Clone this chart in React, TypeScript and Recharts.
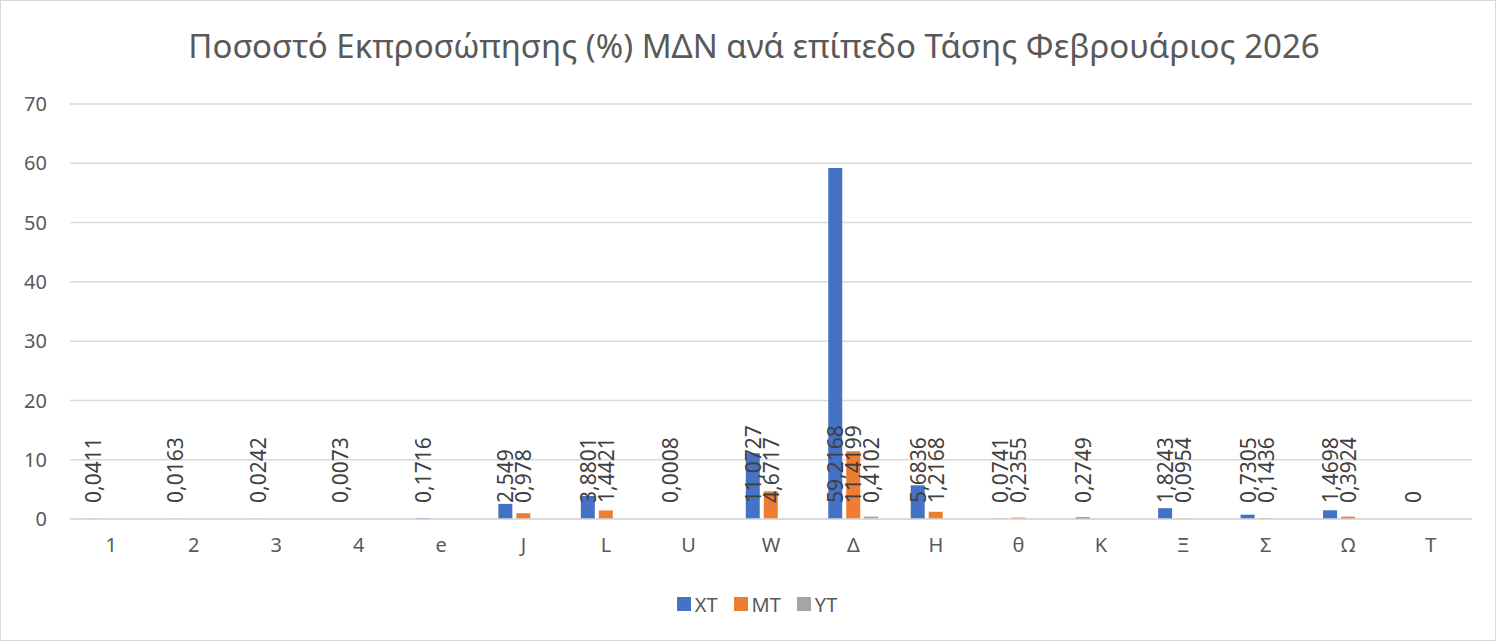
import { BarChart, Bar, XAxis, YAxis, CartesianGrid, Legend } from 'recharts';

const categories = ['1', '2', '3', '4', 'e', 'J', 'L', 'U', 'W', 'Δ', 'H', 'θ', 'K', 'Ξ', 'Σ', 'Ω', 'T'];
const xtValues = [0.0411, 0.0163, 0.0242, 0.0073, 0.1716, 2.549, 3.8801, 0.0008, 11.0727, 59.2168, 5.6836, 0.0741, 0.2749, 1.8243, 0.7305, 1.4698, 0];
const mtValues = [null, null, null, null, null, 0.978, 1.4421, null, 4.6717, 11.4199, 1.2168, 0.2355, null, 0.0954, 0.1436, 0.3924, null];
const ytValues = [null, null, null, null, null, null, null, null, null, 0.4102, null, null, null, null, null, null, null];
const yTicks = [0, 10, 20, 30, 40, 50, 60, 70];

const chartTitle = 'Ποσοστό Εκπροσώπησης (%) ΜΔΝ ανά επίπεδο Τάσης Φεβρουάριος 2026';

const series = [
  { key: 'XT', color: '#4472C4', values: xtValues },
  { key: 'MT', color: '#ED7D31', values: mtValues },
  { key: 'YT', color: '#A5A5A5', values: ytValues },
];

const data = categories.map((name, i) => ({
  name,
  XT: xtValues[i],
  MT: mtValues[i],
  YT: ytValues[i],
}));

const FONT = '"Noto Sans", sans-serif';
const TEXT = '#595959';

const fmt = (v: number) => String(v).replace('.', ',');

// excel style "inside base" label, rotated upwards
const BaseLabel = (props: any) => {
  const { x, y, width, height, value } = props;
  if (value === null || value === undefined) return null;
  const cx = x + width / 2;
  const bottom = y + (height || 0) - 16;
  return (
    <text
      x={cx}
      y={bottom}
      transform={`rotate(-90, ${cx}, ${bottom})`}
      textAnchor="start"
      dominantBaseline="central"
      fill="#404040"
      fontSize={21}
      fontFamily={FONT}
    >
      {fmt(value)}
    </text>
  );
};

// a zero value still needs a rect so its "0" label shows
const keepZero = (v: any) => (v === 0 ? 0.01 : 0);

const LegendContent = () => (
  <div style={{ display: 'flex', justifyContent: 'center', alignItems: 'center', height: 30, fontFamily: FONT, fontSize: 20, color: TEXT, paddingLeft: 42 }}>
    {series.map((s) => (
      <div key={s.key} style={{ display: 'flex', alignItems: 'center', margin: '0 8px' }}>
        <span style={{ width: 14, height: 14, background: s.color, display: 'inline-block', marginRight: 4 }} />
        <span>{s.key}</span>
      </div>
    ))}
  </div>
);

export default function App() {
  return (
    <div style={{ position: 'fixed', left: 0, top: 0, width: 1496, height: 641, background: '#fff' }}>
      <div style={{ position: 'absolute', left: 0, top: 0, width: 1494, height: 639, border: '1px solid #D9D9D9' }} />
      <div
        style={{
          position: 'absolute',
          top: 23,
          left: 6,
          width: 1496,
          textAlign: 'center',
          fontFamily: FONT,
          fontSize: 33,
          color: TEXT,
        }}
      >
        {chartTitle}
      </div>
      <BarChart
        width={1496}
        height={641}
        data={data}
        margin={{ top: 104, right: 24, left: 0, bottom: 52 }}
        barSize={14}
        barGap={4}
      >
        <CartesianGrid vertical={false} stroke="#D9D9D9" strokeWidth={1.5} />
        <XAxis
          dataKey="name"
          height={40}
          axisLine={{ stroke: '#D9D9D9', strokeWidth: 1.5 }}
          tickLine={false}
          tickSize={0}
          tickMargin={19}
          tick={{ fill: TEXT, fontSize: 20, fontFamily: FONT }}
        />
        <YAxis
          width={70}
          domain={[0, 70]}
          ticks={yTicks}
          axisLine={false}
          tickLine={false}
          tickSize={0}
          tickMargin={23}
          tick={{ fill: TEXT, fontSize: 20, fontFamily: FONT }}
        />
        <Legend verticalAlign="bottom" height={30} wrapperStyle={{ bottom: 22 }} content={<LegendContent />} />
        {series.map((s) => (
          <Bar
            key={s.key}
            dataKey={s.key}
            fill={s.color}
            isAnimationActive={false}
            minPointSize={keepZero}
            label={<BaseLabel />}
          />
        ))}
      </BarChart>
    </div>
  );
}
